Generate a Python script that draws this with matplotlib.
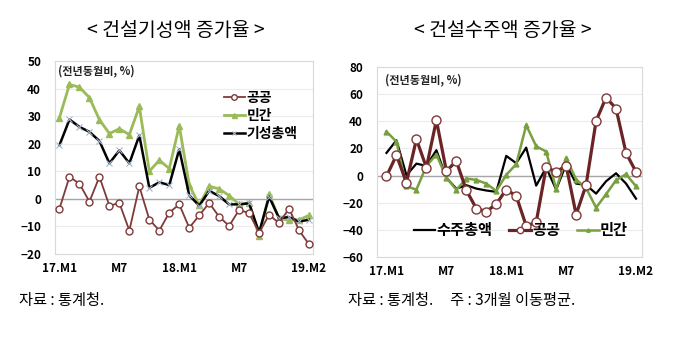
import matplotlib
matplotlib.use('Agg')
import matplotlib.pyplot as plt

plt.rcParams['font.family'] = ['Noto Sans CJK KR', 'DejaVu Sans']

# x축: 17.M1 ~ 19.M2 (26개월)
months = list(range(26))
tick_pos = [0, 6, 12, 18, 25]
tick_labels = ['17.M1', 'M7', '18.M1', 'M7', '19.M2']

# 건설기성액 증가율 (전년동월비, %)
kisung_public = [-3.5, 8, 5.5, -1, 8, -2.5, -1.5, -11.5, 4.5, -7.5, -11.5, -5, -2,
                 -10.5, -6, -1.5, -6.5, -9.8, -4, -5.2, -12.3, -5.8, -8.8, -3.5, -11.4, -16.5]
kisung_private = [29.5, 41.5, 40.5, 36.7, 28.7, 23.7, 25.4, 23.3, 33.5, 10, 14, 11, 26.5,
                  5, -2.3, 4.6, 3.6, 1.2, -2, -1.6, -13.5, 1.7, -7.1, -7.8, -7.6, -6]
kisung_total = [19.5, 28.8, 26.1, 24.3, 21, 12.9, 17.6, 12.9, 23, 4, 6, 5, 18,
                1.3, -2.5, 2.9, 1, -2, -2, -1.6, -12.2, 0.8, -7, -6.6, -8.2, -7.6]

# 건설수주액 증가율 (전년동월비, %, 3개월 이동평균)
suju_total = [16.7, 26, 0.2, 8.8, 7.1, 18.7, -1.7, -9.6, -7.1, -9.6, -11, -12, 14.5,
              9.1, 20.6, -7.4, 5.9, -10.3, 8.4, -5.9, -6.9, -13.3, -4.2, 1.7, -5.9, -17]
suju_public = [-0.5, 15, -5.2, 26.8, 5.9, 40.8, 3.4, 10.6, -10.8, -24.3, -26.5, -21, -10.3,
               -15, -37.1, -34.4, 6.1, 2.7, 7.4, -28.7, -6.9, 40.3, 57.5, 49.4, 16.7, 2.7]
suju_private = [32.4, 25, -8, -10.3, 7.1, 15.5, -1.5, -10.5, -2.2, -3.2, -5.9, -11.3, 0.5,
                8.4, 37.1, 21.6, 17.7, -10, 13, -2.9, -9.3, -23.6, -13.8, -3.4, 1, -7.9]

W, H = 680, 340
fig = plt.figure(figsize=(W / 100, H / 100), dpi=100)


def px_axes(left, top, right, bottom):
    return fig.add_axes([left / W, 1 - bottom / H, (right - left) / W, (bottom - top) / H])


def style_axes(ax, ylim, yticks, pad):
    ax.set_ylim(*ylim)
    ax.set_yticks(yticks)
    ax.set_xticks(tick_pos)
    ax.set_xticklabels(tick_labels)
    ax.tick_params(length=0, labelsize=8.5, pad=pad)
    ax.tick_params(axis='x', pad=6)
    for lab in ax.get_xticklabels() + ax.get_yticklabels():
        lab.set_fontweight('bold')
    ax.grid(axis='y', color='#ececec', lw=0.8)
    ax.set_axisbelow(True)
    for sp in ax.spines.values():
        sp.set_color('#d9d9d9')
        sp.set_linewidth(0.8)
    ax.axhline(0, color='#a6a6a6', lw=1.0, zorder=1)


# 왼쪽: 건설기성액
ax1 = px_axes(55, 61, 313, 254)
ax1.set_xlim(-0.45, 25.4)
style_axes(ax1, (-20, 50), range(-20, 51, 10), 10)
ax1.plot(months, kisung_private, color='#9bbb59', lw=2, marker='^', ms=4.5,
         mfc='#9bbb59', mec='#9bbb59', label='민간', zorder=3)
ax1.plot(months, kisung_total, color='black', lw=1.8, marker='x', ms=4,
         mec='#a8b4c8', mew=0.8, label='기성총액', zorder=4)
ax1.plot(months, kisung_public, color='#7f3a3a', lw=1.3, marker='o', ms=5,
         mfc='white', mec='#7f3a3a', mew=1, label='공공', zorder=5)
h, l = ax1.get_legend_handles_labels()
order = [2, 0, 1]
ax1.legend([h[i] for i in order], [l[i] for i in order], loc='upper left',
           bbox_to_anchor=(0.635, 0.875), frameon=False, handlelength=1.45,
           handletextpad=0.15, labelspacing=0.3, borderaxespad=0, markerscale=0.8,
           prop={'size': 10, 'weight': 'bold'})
ax1.text(0.01, 0.985, '(전년동월비, %)', transform=ax1.transAxes, ha='left', va='top',
         fontsize=8, fontweight='bold', color='#222222')

# 오른쪽: 건설수주액
ax2 = px_axes(377, 67, 642, 257)
ax2.set_xlim(-0.95, 25.6)
style_axes(ax2, (-60, 80), range(-60, 81, 20), 10)
ax2.plot(months, suju_total, color='black', lw=1.6, label='수주총액', zorder=3)
ax2.plot(months, suju_public, color='#6b2426', lw=2.3, marker='o', ms=6.5,
         mfc='white', mec='#7f3a3a', mew=1, label='공공', zorder=5)
ax2.plot(months, suju_private, color='#77a03e', lw=1.8, marker='^', ms=3.5,
         mfc='#77a03e', mec='#77a03e', label='민간', zorder=4)
ax2.legend(loc='center', bbox_to_anchor=(0.543, 0.142), ncol=3, frameon=False,
           handlelength=1.4, handletextpad=0.1, columnspacing=1.1, borderaxespad=0,
           markerscale=0.7, prop={'size': 11, 'weight': 'bold'})
ax2.text(0.03, 0.965, '(전년동월비, %)', transform=ax2.transAxes, ha='left', va='top',
         fontsize=8, fontweight='bold', color='#222222')

# 제목과 주석
fig.text(176 / W, 1 - 30 / H, '< 건설기성액 증가율 >', ha='center', va='center', fontsize=14)
fig.text(503 / W, 1 - 30 / H, '< 건설수주액 증가율 >', ha='center', va='center', fontsize=14)
fig.text(19 / W, 1 - 300 / H, '자료 : 통계청.', ha='left', va='center', fontsize=11)
fig.text(348 / W, 1 - 300 / H, '자료 : 통계청.     주 : 3개월 이동평균.', ha='left',
         va='center', fontsize=11)

fig.savefig('out.png', dpi=100)
